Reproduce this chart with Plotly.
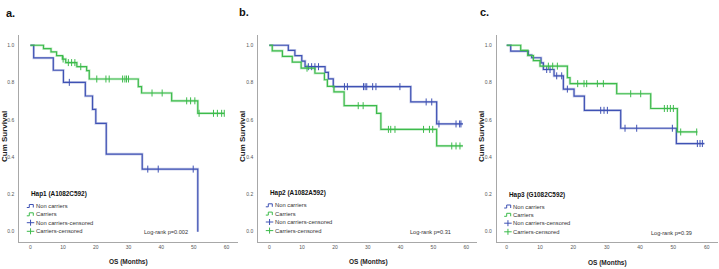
import numpy as np
import plotly.graph_objects as go

# ---------------- data ----------------
# Panel a : Hap1 (A1082C592)
a_non_t = [0, 1.0, 7.0, 10.1, 16.8, 19.0, 20.0, 23.2, 34.2, 51.2]
a_non_s = [1.0, 0.932, 0.866, 0.801, 0.728, 0.656, 0.581, 0.416, 0.336, 0.0]
a_non_cens = [11.9, 35.9, 39.1, 49.8]
a_non_end = 51.2
a_car_t = [0, 4.0, 6.3, 8.0, 9.8, 10.8, 14.2, 17.2, 18.0, 33.0, 34.0, 43.2, 51.2]
a_car_s = [1.0, 0.982, 0.964, 0.944, 0.926, 0.907, 0.885, 0.864, 0.819, 0.778, 0.744, 0.702, 0.635]
a_car_cens = [10.0, 11.6, 12.6, 13.6, 15.4, 20.3, 23.1, 24.1, 28.2, 28.9, 29.4, 30.0,
              37.2, 40.3, 47.8, 49.0, 50.3, 51.6, 56.0, 57.2, 58.5, 59.3]
a_car_end = 59.3

# Panel b : Hap2 (A1082A592)
b_non_t = [0, 5.8, 7.8, 9.9, 10.9, 17.0, 18.0, 19.5, 43.1, 51.0]
b_non_s = [1.0, 0.973, 0.944, 0.915, 0.885, 0.855, 0.82, 0.778, 0.696, 0.578]
b_non_cens = [11.9, 12.9, 13.9, 15.0, 22.9, 23.8, 28.7, 29.2, 29.7, 31.5, 32.5, 39.8,
              47.8, 49.5, 51.7, 56.9, 58.0, 58.4]
b_non_end = 59.0
b_car_t = [0, 0.9, 4.0, 7.0, 9.7, 13.9, 16.8, 17.7, 19.7, 22.8, 32.7, 34.0, 51.0]
b_car_s = [1.0, 0.97, 0.94, 0.91, 0.877, 0.85, 0.815, 0.78, 0.75, 0.676, 0.635, 0.549, 0.46]
b_car_cens = [11.5, 27.1, 28.6, 36.3, 37.0, 38.3, 47.0, 48.8, 49.8, 55.6, 56.9, 58.1]
b_car_end = 59.0

# Panel c : Hap3 (G1082C592)
c_non_t = [0, 1.2, 6.5, 7.5, 10.3, 11.0, 14.2, 17.0, 20.2, 23.3, 34.2, 50.9]
c_non_s = [1.0, 0.968, 0.947, 0.933, 0.906, 0.870, 0.836, 0.765, 0.727, 0.651, 0.555, 0.473]
c_non_cens = [12.0, 13.0, 15.0, 16.5, 18.2, 28.2, 29.2, 30.2, 35.5, 39.0, 49.7,
              57.2, 58.0, 58.7]
c_non_end = 59.3
c_car_t = [0, 4.2, 6.3, 8.0, 10.0, 18.2, 19.0, 33.0, 43.2, 51.2]
c_car_s = [1.0, 0.973, 0.945, 0.918, 0.888, 0.826, 0.794, 0.74, 0.661, 0.535]
c_car_cens = [12.5, 13.8, 15.2, 21.3, 23.2, 24.0, 27.2, 29.0, 37.2, 40.2,
              47.3, 48.2, 49.1, 50.0, 52.2, 57.0]
c_car_end = 57.2

panel_letters = ["a.", "b.", "c."]
legend_titles = ["Hap1 (A1082C592)", "Hap2 (A1082A592)", "Hap3 (G1082C592)"]
logrank_texts = ["Log-rank p=0.002", "Log-rank p=0.31", "Log-rank p=0.39"]
legend_labels = ["Non carriers", "Carriers", "Non carriers-censored", "Carriers-censored"]
x_ticks = [0, 10, 20, 30, 40, 50, 60]
y_ticks = [0.0, 0.2, 0.4, 0.6, 0.8, 1.0]

# ---------------- style / layout ----------------
W, H = 719, 269
MT, MB = 35, 27
BLUE = "#3f52b4"
BLUE_L = "rgba(63,82,180,0.28)"
GREEN = "#3dbb4c"
GREEN_L = "rgba(61,187,76,0.28)"
AXC = "#a8a8a8"
FONT = "Liberation Sans Narrow, Liberation Sans, Arial, sans-serif"

panels = [
    dict(non=(a_non_t, a_non_s, a_non_cens, a_non_end), car=(a_car_t, a_car_s, a_car_cens, a_car_end),
         dom=(19.3, 238.0), rng=(-3.4, 63.5), ytit=4.0, xtit=(128.5, 262), lab=(10, 13),
         leg_y=194.0, lr=(189.5, 231.7)),
    dict(non=(b_non_t, b_non_s, b_non_cens, b_non_end), car=(b_car_t, b_car_s, b_car_cens, b_car_end),
         dom=(258.3, 476.7), rng=(-3.35, 63.2), ytit=242.0, xtit=(368.0, 262), lab=(244, 12),
         leg_y=193.3, lr=(452.5, 232.3)),
    dict(non=(c_non_t, c_non_s, c_non_cens, c_non_end), car=(c_car_t, c_car_s, c_car_cens, c_car_end),
         dom=(496.7, 717.7), rng=(-3.0, 63.3), ytit=481.0, xtit=(607.5, 263), lab=(484, 12),
         leg_y=194.5, lr=(693.5, 233.3)),
]


def px(x):
    return x / W


def py(y):
    return (H - MB - y) / (H - MT - MB)


def km_line(t, s, end):
    t = list(t)
    s = list(s)
    if t[-1] < end:
        t = t + [end]
        s = s + [s[-1]]
    return t, s


def km_at(t, s, c):
    t = np.asarray(t)
    s = np.asarray(s)
    idx = np.searchsorted(t, np.asarray(c), side="right") - 1
    return s[idx]


fig = go.Figure()
shapes = []
annotations = []

for i, p in enumerate(panels):
    xa = "x" if i == 0 else f"x{i+1}"
    ya = "y" if i == 0 else f"y{i+1}"
    for key, col, coll in (("non", BLUE, BLUE_L), ("car", GREEN, GREEN_L)):
        t, s, cens, end = p[key]
        lt, ls = km_line(t, s, end)
        fig.add_trace(go.Scatter(x=lt, y=ls, xaxis=xa, yaxis=ya, mode="lines", line_shape="hv",
                                 line=dict(color=coll, width=2.6), hoverinfo="skip", showlegend=False))
        fig.add_trace(go.Scatter(x=lt, y=ls, xaxis=xa, yaxis=ya, mode="lines", line_shape="hv",
                                 line=dict(color=col, width=1.2), showlegend=False))
        fig.add_trace(go.Scatter(x=cens, y=km_at(t, s, cens), xaxis=xa, yaxis=ya, mode="markers",
                                 marker=dict(symbol="line-ns-open", size=5, color=col,
                                             line=dict(color=col, width=1)),
                                 showlegend=False))
    d0, d1 = p["dom"]
    ax_common = dict(showline=True, linecolor=AXC, linewidth=1, showgrid=False, zeroline=False,
                     ticks="", tickfont=dict(size=5, color="#555", family=FONT))
    fig.update_layout(**{
        ("xaxis" if i == 0 else f"xaxis{i+1}"): dict(domain=[px(d0), px(d1)], range=list(p["rng"]),
                                                     tickvals=x_ticks, anchor=ya, **ax_common),
        ("yaxis" if i == 0 else f"yaxis{i+1}"): dict(domain=[0, 1], range=[-0.055, 1.055],
                                                     tickvals=y_ticks, tickformat=".1f", anchor=xa,
                                                     ticklabelstandoff=3, **ax_common),
    })

    # panel letter
    annotations.append(dict(x=px(p["lab"][0]), y=py(p["lab"][1]), xref="paper", yref="paper",
                            text=f"<b>{panel_letters[i]}</b>", showarrow=False,
                            font=dict(size=11, color="#111", family="Liberation Sans, Arial"),
                            xanchor="center", yanchor="middle"))
    # axis titles
    annotations.append(dict(x=px(p["ytit"]), y=py(137), xref="paper", yref="paper",
                            text="<b>Cum Survival</b>", textangle=-90, showarrow=False,
                            font=dict(size=8, color="#222", family=FONT), xanchor="center", yanchor="middle"))
    annotations.append(dict(x=px(p["xtit"][0]), y=py(p["xtit"][1]), xref="paper", yref="paper",
                            text="<b>OS (Months)</b>", showarrow=False,
                            font=dict(size=6.5, color="#222", family=FONT), xanchor="center", yanchor="middle"))
    # log-rank
    annotations.append(dict(x=px(p["lr"][0]), y=py(p["lr"][1]), xref="paper", yref="paper",
                            text=logrank_texts[i], showarrow=False,
                            font=dict(size=5.6, color="#333", family=FONT), xanchor="right", yanchor="middle"))
    # legend
    lx = d0
    ly = p["leg_y"]
    annotations.append(dict(x=px(lx + 10), y=py(ly), xref="paper", yref="paper",
                            text=f"<b>{legend_titles[i]}</b>", showarrow=False,
                            font=dict(size=6.4, color="#111", family=FONT), xanchor="left", yanchor="middle"))
    offs = [12.0, 20.3, 28.7, 37.3]
    cols = [BLUE, GREEN, BLUE, GREEN]
    for k, (lab, off, col) in enumerate(zip(legend_labels, offs, cols)):
        yy = ly + off
        x0, x1 = lx + 7.5, lx + 15
        if k < 2:
            path = (f"M {px(x0)},{py(yy + 1.5)} L {px(x0 + 2.5)},{py(yy + 1.5)} "
                    f"L {px(x0 + 2.5)},{py(yy - 1.5)} L {px(x1 - 1)},{py(yy - 1.5)} "
                    f"L {px(x1 - 1)},{py(yy + 1.5)}")
            shapes.append(dict(type="path", xref="paper", yref="paper", path=path,
                               line=dict(color=col, width=1)))
        else:
            shapes.append(dict(type="line", xref="paper", yref="paper", x0=px(x0), x1=px(x1),
                               y0=py(yy), y1=py(yy), line=dict(color=col, width=1)))
            xm = (x0 + x1) / 2
            shapes.append(dict(type="line", xref="paper", yref="paper", x0=px(xm), x1=px(xm),
                               y0=py(yy - 3), y1=py(yy + 3), line=dict(color=col, width=1)))
        annotations.append(dict(x=px(x1 - 0.5), y=py(yy), xref="paper", yref="paper", text=lab,
                                showarrow=False, font=dict(size=5.8, color="#333", family=FONT),
                                xanchor="left", yanchor="middle"))

fig.update_layout(width=W, height=H, margin=dict(l=0, r=0, t=MT, b=MB),
                  paper_bgcolor="white", plot_bgcolor="white", showlegend=False,
                  shapes=shapes, annotations=annotations, font=dict(family=FONT))
fig.write_html("out.html", config={"displayModeBar": False},
               post_script="document.body.style.margin='0px';document.body.style.overflow='hidden';")
